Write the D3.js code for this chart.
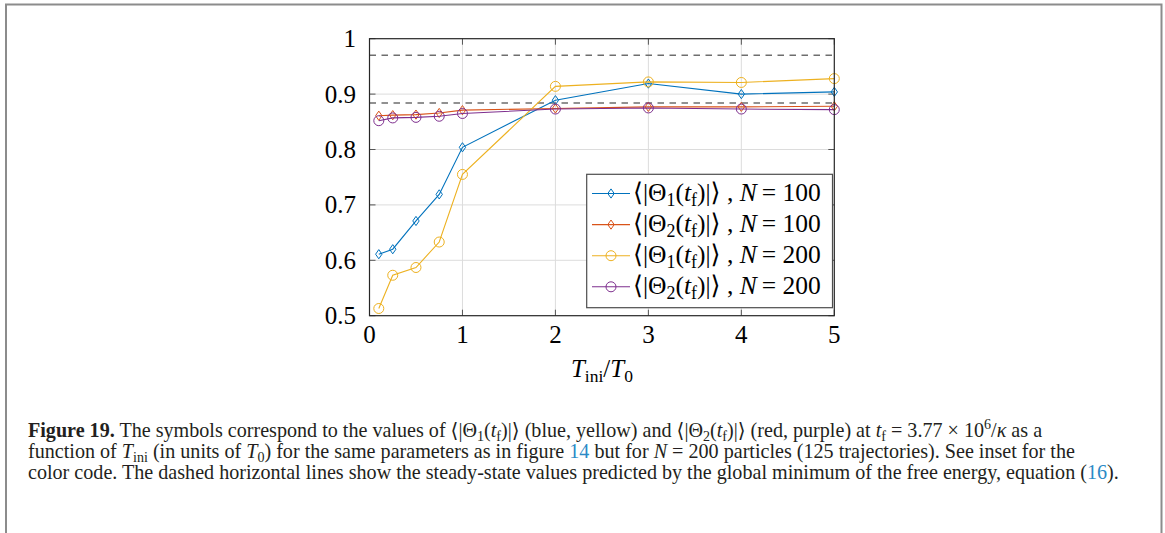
<!DOCTYPE html>
<meta charset="utf-8">
<style>
    body { margin: 0; background: #fff; }
    svg text { font-family: "Liberation Serif", "DejaVu Serif", serif; }
    .grid line { stroke: #dcdcdc; stroke-width: 1px; }
    .ticks line { stroke: #555; stroke-width: 1px; }
    path.line { fill: none; stroke-width: 1.1px; }
    .mark { fill: none; stroke-width: 1px; }
</style>
<svg width="1165" height="533"></svg>
<script src="https://cdn.jsdelivr.net/npm/d3@7"></script>
<script>

    // values
    var tIni = [0.1, 0.25, 0.5, 0.75, 1, 2, 3, 4, 5];
    var theta1N100 = [0.611, 0.620, 0.671, 0.719, 0.804, 0.889, 0.919, 0.900, 0.904];
    var theta2N100 = [0.861, 0.862, 0.863, 0.866, 0.871, 0.874, 0.877, 0.877, 0.878];
    var theta1N200 = [0.513, 0.573, 0.587, 0.633, 0.755, 0.914, 0.922, 0.921, 0.928];
    var theta2N200 = [0.852, 0.857, 0.858, 0.860, 0.865, 0.873, 0.875, 0.873, 0.872];
    var steadyState = [0.970, 0.884];

    var xTicks = [0, 1, 2, 3, 4, 5];
    var yTicks = [0.5, 0.6, 0.7, 0.8, 0.9, 1];
    var yTickLabels = ["0.5", "0.6", "0.7", "0.8", "0.9", "1"];

    var seriesColors = ["#0072BD", "#D95319", "#EDB120", "#7E2F8E"];
    var seriesMarkers = ["diamond", "diamond", "circle", "circle"];
    var seriesIndex = ["1", "2", "1", "2"];
    var seriesN = ["100", "100", "200", "200"];
    var seriesValues = [theta1N100, theta2N100, theta1N200, theta2N200];

    var svg = d3.select("svg");

    // page frame
    svg.append("path")
            .attr("d", "M6,533V4.5H1161.5V533")
            .attr("fill", "none")
            .attr("stroke", "#8c8c8c")
            .attr("stroke-width", 2);

    var pLeft = 369.5, pRight = 834.3, pTop = 38.7, pBottom = 315.7;

    var x = d3.scaleLinear().domain([0, 5]).range([pLeft, pRight]);
    var y = d3.scaleLinear().domain([0.5, 1]).range([pBottom, pTop]);

    // grid
    var grid = svg.append("g").attr("class", "grid");
    grid.selectAll("line.gx")
            .data(xTicks.slice(1, -1))
            .enter().append("line")
            .attr("x1", function(d) { return x(d); })
            .attr("x2", function(d) { return x(d); })
            .attr("y1", pTop).attr("y2", pBottom);
    grid.selectAll("line.gy")
            .data(yTicks.slice(1, -1))
            .enter().append("line")
            .attr("y1", function(d) { return y(d); })
            .attr("y2", function(d) { return y(d); })
            .attr("x1", pLeft).attr("x2", pRight);

    // inward tick marks on all four sides
    var tk = 6;
    var ticks = svg.append("g").attr("class", "ticks");
    xTicks.forEach(function(d) {
        ticks.append("line").attr("x1", x(d)).attr("x2", x(d)).attr("y1", pBottom).attr("y2", pBottom - tk);
        ticks.append("line").attr("x1", x(d)).attr("x2", x(d)).attr("y1", pTop).attr("y2", pTop + tk);
    });
    yTicks.forEach(function(d) {
        ticks.append("line").attr("y1", y(d)).attr("y2", y(d)).attr("x1", pLeft).attr("x2", pLeft + tk);
        ticks.append("line").attr("y1", y(d)).attr("y2", y(d)).attr("x1", pRight).attr("x2", pRight - tk);
    });

    // steady-state dashed lines
    svg.append("g").selectAll("line")
            .data(steadyState)
            .enter().append("line")
            .attr("x1", x(0)).attr("x2", x(5))
            .attr("y1", function(d) { return y(d); })
            .attr("y2", function(d) { return y(d); })
            .attr("stroke", "#6e6e6e")
            .attr("stroke-width", 1.6)
            .attr("stroke-dasharray", "6.5,5.5");

    var diamond = "M0,-4.6L3.2,0L0,4.6L-3.2,0Z";

    function drawMark(g, type, color) {
        if (type == "circle") {
            return g.append("circle").attr("class", "mark").attr("r", 5).attr("stroke", color);
        }
        return g.append("path").attr("class", "mark").attr("d", diamond).attr("stroke", color);
    }

    var line = d3.line()
            .x(function(d, i) { return x(tIni[i]); })
            .y(function(d) { return y(d); });

    seriesValues.forEach(function(vals, s) {
        var g = svg.append("g").attr("class", "series");
        g.append("path").attr("class", "line")
                .attr("d", line(vals))
                .attr("stroke", seriesColors[s]);
        vals.forEach(function(v, i) {
            drawMark(g, seriesMarkers[s], seriesColors[s])
                    .attr("transform", "translate(" + x(tIni[i]) + "," + y(v) + ")");
        });
    });

    // axes frame
    svg.append("rect")
            .attr("x", pLeft).attr("y", pTop)
            .attr("width", pRight - pLeft).attr("height", pBottom - pTop)
            .attr("fill", "none")
            .attr("stroke", "#262626")
            .attr("stroke-width", 1.2);

    // tick labels
    svg.append("g").selectAll("text")
            .data(xTicks)
            .enter().append("text")
            .attr("x", function(d) { return x(d); })
            .attr("y", 343)
            .attr("text-anchor", "middle")
            .attr("font-size", 25)
            .text(function(d) { return d; });
    svg.append("g").selectAll("text")
            .data(yTicks)
            .enter().append("text")
            .attr("x", 356)
            .attr("y", function(d) { return y(d) + 8.5; })
            .attr("text-anchor", "end")
            .attr("font-size", 25)
            .text(function(d, i) { return yTickLabels[i]; });

    // rich text helper: parts are [text, flags]
    function rich(sel, parts, fs) {
        var cur = 0;
        parts.forEach(function(p) {
            var f = p[1] || "";
            var t = sel.append("tspan").text(p[0]);
            var shift = 0;
            if (f == "sub") shift = 0.2 * fs;
            if (f == "sup") shift = -0.4 * fs;
            if (shift != cur) t.attr("dy", shift - cur);
            cur = shift;
            if (shift != 0) t.attr("font-size", 0.7 * fs);
            if (f == "i") t.attr("font-style", "italic");
            if (f == "b") t.attr("font-weight", "bold");
            if (f == "link") t.attr("fill", "#2b8ac6");
        });
    }

    // x-axis title
    var xt = svg.append("text")
            .attr("x", (pLeft + pRight) / 2)
            .attr("y", 377)
            .attr("text-anchor", "middle")
            .attr("font-size", 25);
    rich(xt, [["T", "i"], ["ini", "sub"], ["/"], ["T", "i"], ["0", "sub"]], 25);

    // legend
    var lg = svg.append("g");
    lg.append("rect")
            .attr("x", 586.7).attr("y", 174.3)
            .attr("width", 245.8).attr("height", 133.4)
            .attr("fill", "#fff")
            .attr("stroke", "#4d4d4d")
            .attr("stroke-width", 1.2);
    var legendTexts = [];
    seriesColors.forEach(function(c, s) {
        var ry = 193.5 + s * 31.1;
        lg.append("line")
                .attr("x1", 592).attr("x2", 630)
                .attr("y1", ry).attr("y2", ry)
                .attr("stroke", c).attr("stroke-width", 1.1);
        drawMark(lg, seriesMarkers[s], c)
                .attr("transform", "translate(611," + ry + ")");
        legendTexts.push(lg.append("text")
                .attr("x", 633).attr("y", ry + 7.5));
    });
    function drawLegendText(fs) {
        legendTexts.forEach(function(t, s) {
            t.selectAll("*").remove();
            t.attr("font-size", fs);
            rich(t, [["\u27E8|\u0398"], [seriesIndex[s], "sub"], ["("], ["t", "i"], ["f", "sub"],
                [")|\u27E9 , "], ["N", "i"], ["\u2009= " + seriesN[s]]], fs);
        });
    }
    drawLegendText(21);
    var lw = legendTexts[0].node().getComputedTextLength();
    drawLegendText(21 * 188 / lw);

    // caption
    var captionLines = [
        [["Figure 19.", "b"], [" The symbols correspond to the values of \u27E8|\u0398"], ["1", "sub"], ["("], ["t", "i"], ["f", "sub"],
            [")|\u27E9 (blue, yellow) and \u27E8|\u0398"], ["2", "sub"], ["("], ["t", "i"], ["f", "sub"],
            [")|\u27E9 (red, purple) at "], ["t", "i"], ["f", "sub"], [" = 3.77 \u00D7 10"], ["6", "sup"], ["/"], ["\u03BA", "i"], [" as a"]],
        [["function of "], ["T", "i"], ["ini", "sub"], [" (in units of "], ["T", "i"], ["0", "sub"],
            [") for the same parameters as in figure "], ["14", "link"], [" but for "], ["N", "i"],
            [" = 200 particles (125 trajectories). See inset for the"]],
        [["color code. The dashed horizontal lines show the steady-state values predicted by the global minimum of the free energy, equation ("],
            ["16", "link"], [")."]]
    ];
    var captionY = [437, 458, 479];

    var cap = svg.append("g").attr("fill", "#231f20");
    function drawCaption(fs) {
        cap.selectAll("*").remove();
        captionLines.forEach(function(parts, i) {
            var t = cap.append("text")
                    .attr("x", 28).attr("y", captionY[i])
                    .attr("font-size", fs);
            rich(t, parts, fs);
        });
    }
    drawCaption(16);
    var w = cap.select("text").node().getComputedTextLength();
    drawCaption(16 * 1015 / w);

</script>
